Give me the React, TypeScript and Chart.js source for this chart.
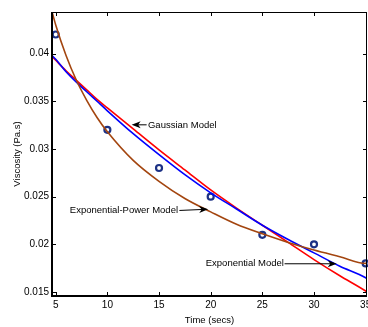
import React, { useEffect, useRef } from "react";
import { Chart, registerables } from "chart.js";

Chart.register(...registerables);

// Measured data
const timeSecs = [5, 10, 15, 20, 25, 30, 35];
const measuredViscosity = [0.042, 0.032, 0.028, 0.025, 0.021, 0.02, 0.018];

const modelTimes = [4.64, 5, 6, 7, 8, 9, 10, 12.5, 15, 17.5, 20, 22.5, 25, 27.5, 30, 32.5, 35, 35.13];
const gaussianModel = [0.0397, 0.0393, 0.0382, 0.0372, 0.0362, 0.0352, 0.0343, 0.0321, 0.0299, 0.0278, 0.0257, 0.0238, 0.022, 0.0202, 0.0184, 0.0167, 0.0151, 0.015];
const exponentialModel = [0.0398, 0.0394, 0.0381, 0.037, 0.036, 0.035, 0.034, 0.0316, 0.0294, 0.0273, 0.0254, 0.0237, 0.022, 0.0205, 0.0191, 0.0177, 0.0165, 0.0164];
const expPowerModel = [0.0444, 0.043, 0.0398, 0.0372, 0.0351, 0.0333, 0.0318, 0.0288, 0.0266, 0.0248, 0.0234, 0.0221, 0.0211, 0.0202, 0.0194, 0.0187, 0.018, 0.018];

// Axes
const xRange = [4.64, 35.13];
const yRange = [0.01458, 0.04436];
const xTicks = [5, 10, 15, 20, 25, 30, 35];
const yTicks = [0.015, 0.02, 0.025, 0.03, 0.035, 0.04];
const yTickLabels = ["0.015", "0.02", "0.025", "0.03", "0.035", "0.04"];
const xTitle = "Time (secs)";
const yTitle = "Viscosity (Pa.s)";

// Annotations: label, text anchor (data), alignment, arrow tail and tip (data)
const annotationLabels = ["Gaussian Model", "Exponential-Power Model", "Exponential Model"];
const annotationText = [
  { x: 13.93, y: 0.0325, align: "left" },
  { x: 16.84, y: 0.02355, align: "right" },
  { x: 19.52, y: 0.01796, align: "left" },
];
const annotationArrows = [
  { fromX: 13.8, fromY: 0.03253, toX: 12.35, toY: 0.03253 },
  { fromX: 16.97, fromY: 0.02355, toX: 19.75, toY: 0.02368 },
  { fromX: 27.15, fromY: 0.01796, toX: 32.2, toY: 0.01796 },
];

const FONT = "'Liberation Sans', Arial, Helvetica, sans-serif";

const toXY = (xs: number[], ys: number[]) => xs.map((x, i) => ({ x, y: ys[i] }));

const framePlugin = {
  id: "frame",
  afterDatasetsDraw(chart: any) {
    const { ctx, chartArea, scales } = chart;
    const { left, right, top, bottom } = chartArea;
    const xs = scales.x;
    const ys = scales.y;
    ctx.save();
    ctx.strokeStyle = "#000";
    ctx.lineWidth = 1;
    ctx.beginPath();
    const tl = 4;
    xTicks.forEach((v) => {
      const px = Math.round(xs.getPixelForValue(v)) + 0.5;
      ctx.moveTo(px, bottom);
      ctx.lineTo(px, bottom - tl);
      ctx.moveTo(px, top);
      ctx.lineTo(px, top + tl);
    });
    yTicks.forEach((v) => {
      const py = Math.round(ys.getPixelForValue(v)) + 0.5;
      ctx.moveTo(left, py);
      ctx.lineTo(left + tl, py);
      ctx.moveTo(right, py);
      ctx.lineTo(right - tl, py);
    });
    ctx.stroke();
    // top & right thin
    ctx.beginPath();
    ctx.moveTo(left, Math.round(top) + 0.5);
    ctx.lineTo(right, Math.round(top) + 0.5);
    ctx.moveTo(Math.round(right) - 0.5, top);
    ctx.lineTo(Math.round(right) - 0.5, bottom);
    ctx.stroke();
    // left & bottom thicker
    ctx.lineWidth = 2;
    ctx.beginPath();
    ctx.moveTo(Math.round(left), top);
    ctx.lineTo(Math.round(left), Math.round(bottom));
    ctx.lineTo(right, Math.round(bottom));
    ctx.stroke();

    // annotations
    ctx.fillStyle = "#000";
    ctx.font = `9.5px ${FONT}`;
    ctx.textBaseline = "middle";
    annotationLabels.forEach((label, i) => {
      const t = annotationText[i];
      ctx.textAlign = t.align as CanvasTextAlign;
      ctx.fillText(label, xs.getPixelForValue(t.x), ys.getPixelForValue(t.y));
      const a = annotationArrows[i];
      const x0 = xs.getPixelForValue(a.fromX);
      const y0 = ys.getPixelForValue(a.fromY);
      const x1 = xs.getPixelForValue(a.toX);
      const y1 = ys.getPixelForValue(a.toY);
      const ang = Math.atan2(y1 - y0, x1 - x0);
      const len = 9;
      const hw = 3.5;
      ctx.lineWidth = 1;
      ctx.beginPath();
      ctx.moveTo(x0, y0);
      ctx.lineTo(x1 - Math.cos(ang) * 5, y1 - Math.sin(ang) * 5);
      ctx.stroke();
      const bx = x1 - Math.cos(ang) * len;
      const by = y1 - Math.sin(ang) * len;
      const nx = x1 - Math.cos(ang) * (len - 2.5);
      const ny = y1 - Math.sin(ang) * (len - 2.5);
      ctx.beginPath();
      ctx.moveTo(x1, y1);
      ctx.lineTo(bx - Math.sin(ang) * hw, by + Math.cos(ang) * hw);
      ctx.lineTo(nx, ny);
      ctx.lineTo(bx + Math.sin(ang) * hw, by - Math.cos(ang) * hw);
      ctx.closePath();
      ctx.fill();
    });
    ctx.restore();
  },
};

export default function App() {
  const ref = useRef<HTMLCanvasElement | null>(null);
  useEffect(() => {
    document.body.style.margin = "0";
    const canvas = ref.current;
    if (!canvas) return;
    Chart.defaults.font.family = FONT;
    const lineBase = {
      showLine: true,
      pointRadius: 0,
      borderWidth: 1.6,
      fill: false,
      cubicInterpolationMode: "monotone" as const,
      clip: 0,
    };
    const chart = new Chart(canvas, {
      type: "scatter",
      data: {
        datasets: [
          { ...lineBase, label: "Exponential-Power Model", data: toXY(modelTimes, expPowerModel), borderColor: "#a3450f" },
          { ...lineBase, label: "Exponential Model", data: toXY(modelTimes, exponentialModel), borderColor: "#0000ff" },
          { ...lineBase, label: "Gaussian Model", data: toXY(modelTimes, gaussianModel), borderColor: "#ff0000" },
          {
            label: "Measured",
            data: toXY(timeSecs, measuredViscosity),
            showLine: false,
            pointRadius: 3,
            pointBorderWidth: 2.2,
            pointBorderColor: "#1c3185",
            pointBackgroundColor: "#ffffff",
            clip: false,
          } as any,
        ],
      },
      options: {
        responsive: false,
        animation: false,
        devicePixelRatio: 1,
        layout: { autoPadding: false, padding: { top: 12, right: 1, left: 0, bottom: 0 } },
        plugins: { legend: { display: false }, tooltip: { enabled: false } },
        scales: {
          x: {
            type: "linear",
            min: xRange[0],
            max: xRange[1],
            afterBuildTicks: (s: any) => {
              s.ticks = xTicks.map((v) => ({ value: v }));
            },
            afterFit: (s: any) => {
              s.height = 31;
              s.paddingLeft = 0;
              s.paddingRight = 0;
            },
            grid: { display: false, drawTicks: false },
            border: { display: false },
            ticks: { color: "#000", font: { size: 10 }, padding: 3, maxRotation: 0, autoSkip: false, callback: (v: any) => String(v) },
            title: { display: true, text: xTitle, color: "#000", font: { size: 9.5 }, padding: { top: 0, bottom: 1 } },
          },
          y: {
            type: "linear",
            min: yRange[0],
            max: yRange[1],
            afterBuildTicks: (s: any) => {
              s.ticks = yTicks.map((v) => ({ value: v }));
            },
            afterFit: (s: any) => {
              s.width = 52;
              s.paddingTop = 0;
              s.paddingBottom = 0;
            },
            grid: { display: false, drawTicks: false },
            border: { display: false },
            ticks: {
              color: "#000",
              font: { size: 10 },
              padding: 3,
              autoSkip: false,
              callback: (v: any) => {
                const i = yTicks.findIndex((t) => Math.abs(t - v) < 1e-9);
                return i >= 0 ? yTickLabels[i] : "";
              },
            },
            title: { display: true, text: yTitle, color: "#000", font: { size: 9.5 }, padding: { top: 12, bottom: 0 } },
          },
        },
      },
      plugins: [framePlugin],
    } as any);
    return () => chart.destroy();
  }, []);
  return (
    <div style={{ position: "absolute", left: 0, top: 0, width: 368, height: 327, background: "#fff" }}>
      <canvas ref={ref} width={368} height={327} style={{ display: "block" }} />
    </div>
  );
}
